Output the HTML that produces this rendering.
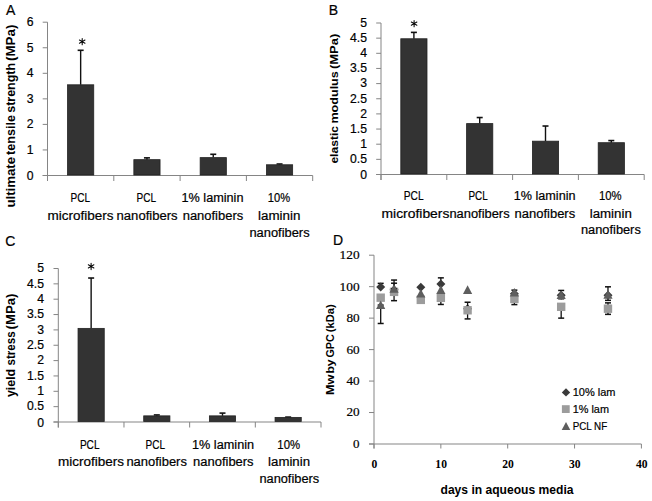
<!DOCTYPE html>
<html><head><meta charset="utf-8"><style>
html,body{margin:0;padding:0;background:#fff;}
svg{display:block;}

</style></head><body>
<svg width="652" height="501" viewBox="0 0 652 501" font-family='"Liberation Sans", sans-serif'>
<rect width="652" height="501" fill="#fff"/>
<text x="6.00" y="15.00" font-size="14" stroke="#000" stroke-width="0.2">A</text>
<line x1="47.50" y1="22.20" x2="47.50" y2="181.00" stroke="#858585" stroke-width="1"/>
<line x1="42.70" y1="175.50" x2="47.50" y2="175.50" stroke="#858585" stroke-width="1"/>
<text x="33.60" y="180.10" font-size="12.2" text-anchor="end" stroke="#000" stroke-width="0.2">0</text>
<line x1="42.70" y1="149.95" x2="47.50" y2="149.95" stroke="#858585" stroke-width="1"/>
<text x="33.60" y="153.75" font-size="12.2" text-anchor="end" stroke="#000" stroke-width="0.2">1</text>
<line x1="42.70" y1="124.40" x2="47.50" y2="124.40" stroke="#858585" stroke-width="1"/>
<text x="33.60" y="128.20" font-size="12.2" text-anchor="end" stroke="#000" stroke-width="0.2">2</text>
<line x1="42.70" y1="98.85" x2="47.50" y2="98.85" stroke="#858585" stroke-width="1"/>
<text x="33.60" y="102.65" font-size="12.2" text-anchor="end" stroke="#000" stroke-width="0.2">3</text>
<line x1="42.70" y1="73.30" x2="47.50" y2="73.30" stroke="#858585" stroke-width="1"/>
<text x="33.60" y="77.10" font-size="12.2" text-anchor="end" stroke="#000" stroke-width="0.2">4</text>
<line x1="42.70" y1="47.75" x2="47.50" y2="47.75" stroke="#858585" stroke-width="1"/>
<text x="33.60" y="51.55" font-size="12.2" text-anchor="end" stroke="#000" stroke-width="0.2">5</text>
<line x1="42.70" y1="22.20" x2="47.50" y2="22.20" stroke="#858585" stroke-width="1"/>
<text x="33.60" y="26.00" font-size="12.2" text-anchor="end" stroke="#000" stroke-width="0.2">6</text>
<line x1="42.70" y1="175.50" x2="312.70" y2="175.50" stroke="#858585" stroke-width="1"/>
<line x1="47.50" y1="175.50" x2="47.50" y2="181.00" stroke="#858585" stroke-width="1"/>
<line x1="113.80" y1="175.50" x2="113.80" y2="181.00" stroke="#858585" stroke-width="1"/>
<line x1="180.10" y1="175.50" x2="180.10" y2="181.00" stroke="#858585" stroke-width="1"/>
<line x1="246.40" y1="175.50" x2="246.40" y2="181.00" stroke="#858585" stroke-width="1"/>
<line x1="312.70" y1="175.50" x2="312.70" y2="181.00" stroke="#858585" stroke-width="1"/>
<line x1="80.65" y1="50.30" x2="80.65" y2="84.80" stroke="#111" stroke-width="1.4"/>
<line x1="77.65" y1="50.30" x2="83.65" y2="50.30" stroke="#111" stroke-width="1.6"/>
<rect x="67.55" y="84.80" width="26.20" height="90.20" fill="#333333" stroke="#222" stroke-width="0.8"/>
<line x1="146.95" y1="157.87" x2="146.95" y2="159.66" stroke="#111" stroke-width="1.4"/>
<line x1="143.95" y1="157.87" x2="149.95" y2="157.87" stroke="#111" stroke-width="1.6"/>
<rect x="133.85" y="159.66" width="26.20" height="15.34" fill="#333333" stroke="#222" stroke-width="0.8"/>
<line x1="213.25" y1="154.29" x2="213.25" y2="157.62" stroke="#111" stroke-width="1.4"/>
<line x1="210.25" y1="154.29" x2="216.25" y2="154.29" stroke="#111" stroke-width="1.6"/>
<rect x="200.15" y="157.62" width="26.20" height="17.38" fill="#333333" stroke="#222" stroke-width="0.8"/>
<line x1="279.55" y1="164.00" x2="279.55" y2="164.77" stroke="#111" stroke-width="1.4"/>
<line x1="276.55" y1="164.00" x2="282.55" y2="164.00" stroke="#111" stroke-width="1.6"/>
<rect x="266.45" y="164.77" width="26.20" height="10.23" fill="#333333" stroke="#222" stroke-width="0.8"/>
<path d="M82.20,41.60L82.20,38.40M82.20,41.60L79.43,40.00M82.20,41.60L79.43,43.20M82.20,41.60L82.20,44.80M82.20,41.60L84.97,43.20M82.20,41.60L84.97,40.00" stroke="#000" stroke-width="1.05" stroke-linecap="round" fill="none"/>
<text x="70.60" y="202.30" font-size="12.3" textLength="19.50" lengthAdjust="spacingAndGlyphs" stroke="#000" stroke-width="0.2">PCL</text>
<text x="47.60" y="219.60" font-size="12.3" textLength="66.00" lengthAdjust="spacingAndGlyphs" stroke="#000" stroke-width="0.2">microfibers</text>
<text x="136.60" y="202.30" font-size="12.3" textLength="19.50" lengthAdjust="spacingAndGlyphs" stroke="#000" stroke-width="0.2">PCL</text>
<text x="116.60" y="219.60" font-size="12.3" textLength="61.00" lengthAdjust="spacingAndGlyphs" stroke="#000" stroke-width="0.2">nanofibers</text>
<text x="181.50" y="202.30" font-size="12.3" textLength="62.00" lengthAdjust="spacingAndGlyphs" stroke="#000" stroke-width="0.2">1% laminin</text>
<text x="182.70" y="219.60" font-size="12.3" textLength="60.50" lengthAdjust="spacingAndGlyphs" stroke="#000" stroke-width="0.2">nanofibers</text>
<text x="267.80" y="202.30" font-size="12.3" textLength="22.30" lengthAdjust="spacingAndGlyphs" stroke="#000" stroke-width="0.2">10%</text>
<text x="258.10" y="219.60" font-size="12.3" textLength="42.30" lengthAdjust="spacingAndGlyphs" stroke="#000" stroke-width="0.2">laminin</text>
<text x="249.40" y="236.60" font-size="12.3" textLength="60.20" lengthAdjust="spacingAndGlyphs" stroke="#000" stroke-width="0.2">nanofibers</text>
<text transform="translate(14.70 207.60) rotate(-90)" font-size="12.5" font-weight="bold" textLength="50.70" lengthAdjust="spacingAndGlyphs">ultimate</text>
<text transform="translate(14.70 154.90) rotate(-90)" font-size="12.5" font-weight="bold" textLength="39.80" lengthAdjust="spacingAndGlyphs">tensile</text>
<text transform="translate(14.70 112.80) rotate(-90)" font-size="12.5" font-weight="bold" textLength="49.90" lengthAdjust="spacingAndGlyphs">strength</text>
<text transform="translate(14.70 61.00) rotate(-90)" font-size="12.5" font-weight="bold" textLength="36.40" lengthAdjust="spacingAndGlyphs">(MPa)</text>
<text x="328.70" y="14.60" font-size="14" stroke="#000" stroke-width="0.2">B</text>
<line x1="381.00" y1="23.00" x2="381.00" y2="180.00" stroke="#858585" stroke-width="1"/>
<line x1="376.20" y1="174.50" x2="381.00" y2="174.50" stroke="#858585" stroke-width="1"/>
<text x="367.00" y="179.10" font-size="12.2" text-anchor="end" stroke="#000" stroke-width="0.2">0</text>
<line x1="376.20" y1="159.35" x2="381.00" y2="159.35" stroke="#858585" stroke-width="1"/>
<text x="367.00" y="163.15" font-size="12.2" text-anchor="end" stroke="#000" stroke-width="0.2">0.5</text>
<line x1="376.20" y1="144.20" x2="381.00" y2="144.20" stroke="#858585" stroke-width="1"/>
<text x="367.00" y="148.00" font-size="12.2" text-anchor="end" stroke="#000" stroke-width="0.2">1</text>
<line x1="376.20" y1="129.05" x2="381.00" y2="129.05" stroke="#858585" stroke-width="1"/>
<text x="367.00" y="132.85" font-size="12.2" text-anchor="end" stroke="#000" stroke-width="0.2">1.5</text>
<line x1="376.20" y1="113.90" x2="381.00" y2="113.90" stroke="#858585" stroke-width="1"/>
<text x="367.00" y="117.70" font-size="12.2" text-anchor="end" stroke="#000" stroke-width="0.2">2</text>
<line x1="376.20" y1="98.75" x2="381.00" y2="98.75" stroke="#858585" stroke-width="1"/>
<text x="367.00" y="102.55" font-size="12.2" text-anchor="end" stroke="#000" stroke-width="0.2">2.5</text>
<line x1="376.20" y1="83.60" x2="381.00" y2="83.60" stroke="#858585" stroke-width="1"/>
<text x="367.00" y="87.40" font-size="12.2" text-anchor="end" stroke="#000" stroke-width="0.2">3</text>
<line x1="376.20" y1="68.45" x2="381.00" y2="68.45" stroke="#858585" stroke-width="1"/>
<text x="367.00" y="72.25" font-size="12.2" text-anchor="end" stroke="#000" stroke-width="0.2">3.5</text>
<line x1="376.20" y1="53.30" x2="381.00" y2="53.30" stroke="#858585" stroke-width="1"/>
<text x="367.00" y="57.10" font-size="12.2" text-anchor="end" stroke="#000" stroke-width="0.2">4</text>
<line x1="376.20" y1="38.15" x2="381.00" y2="38.15" stroke="#858585" stroke-width="1"/>
<text x="367.00" y="41.95" font-size="12.2" text-anchor="end" stroke="#000" stroke-width="0.2">4.5</text>
<line x1="376.20" y1="23.00" x2="381.00" y2="23.00" stroke="#858585" stroke-width="1"/>
<text x="367.00" y="26.80" font-size="12.2" text-anchor="end" stroke="#000" stroke-width="0.2">5</text>
<line x1="376.20" y1="174.50" x2="644.20" y2="174.50" stroke="#858585" stroke-width="1"/>
<line x1="381.00" y1="174.50" x2="381.00" y2="180.00" stroke="#858585" stroke-width="1"/>
<line x1="446.80" y1="174.50" x2="446.80" y2="180.00" stroke="#858585" stroke-width="1"/>
<line x1="512.60" y1="174.50" x2="512.60" y2="180.00" stroke="#858585" stroke-width="1"/>
<line x1="578.40" y1="174.50" x2="578.40" y2="180.00" stroke="#858585" stroke-width="1"/>
<line x1="644.20" y1="174.50" x2="644.20" y2="180.00" stroke="#858585" stroke-width="1"/>
<line x1="413.90" y1="32.39" x2="413.90" y2="38.76" stroke="#111" stroke-width="1.4"/>
<line x1="410.90" y1="32.39" x2="416.90" y2="32.39" stroke="#111" stroke-width="1.6"/>
<rect x="400.80" y="38.76" width="26.20" height="135.24" fill="#333333" stroke="#222" stroke-width="0.8"/>
<line x1="479.70" y1="117.54" x2="479.70" y2="123.60" stroke="#111" stroke-width="1.4"/>
<line x1="476.70" y1="117.54" x2="482.70" y2="117.54" stroke="#111" stroke-width="1.6"/>
<rect x="466.60" y="123.60" width="26.20" height="50.40" fill="#333333" stroke="#222" stroke-width="0.8"/>
<line x1="545.50" y1="126.02" x2="545.50" y2="141.17" stroke="#111" stroke-width="1.4"/>
<line x1="542.50" y1="126.02" x2="548.50" y2="126.02" stroke="#111" stroke-width="1.6"/>
<rect x="532.40" y="141.17" width="26.20" height="32.83" fill="#333333" stroke="#222" stroke-width="0.8"/>
<line x1="611.30" y1="140.56" x2="611.30" y2="142.69" stroke="#111" stroke-width="1.4"/>
<line x1="608.30" y1="140.56" x2="614.30" y2="140.56" stroke="#111" stroke-width="1.6"/>
<rect x="598.20" y="142.69" width="26.20" height="31.31" fill="#333333" stroke="#222" stroke-width="0.8"/>
<path d="M414.10,23.60L414.10,20.40M414.10,23.60L411.33,22.00M414.10,23.60L411.33,25.20M414.10,23.60L414.10,26.80M414.10,23.60L416.87,25.20M414.10,23.60L416.87,22.00" stroke="#000" stroke-width="1.05" stroke-linecap="round" fill="none"/>
<text x="403.80" y="200.20" font-size="12.3" textLength="19.80" lengthAdjust="spacingAndGlyphs" stroke="#000" stroke-width="0.2">PCL</text>
<text x="381.50" y="217.50" font-size="12.3" textLength="67.90" lengthAdjust="spacingAndGlyphs" stroke="#000" stroke-width="0.2">microfibers</text>
<text x="468.50" y="200.20" font-size="12.3" textLength="19.30" lengthAdjust="spacingAndGlyphs" stroke="#000" stroke-width="0.2">PCL</text>
<text x="449.40" y="217.50" font-size="12.3" textLength="60.20" lengthAdjust="spacingAndGlyphs" stroke="#000" stroke-width="0.2">nanofibers</text>
<text x="513.80" y="200.20" font-size="12.3" textLength="61.70" lengthAdjust="spacingAndGlyphs" stroke="#000" stroke-width="0.2">1% laminin</text>
<text x="514.50" y="217.50" font-size="12.3" textLength="60.70" lengthAdjust="spacingAndGlyphs" stroke="#000" stroke-width="0.2">nanofibers</text>
<text x="598.90" y="200.20" font-size="12.3" textLength="22.60" lengthAdjust="spacingAndGlyphs" stroke="#000" stroke-width="0.2">10%</text>
<text x="589.70" y="217.50" font-size="12.3" textLength="42.10" lengthAdjust="spacingAndGlyphs" stroke="#000" stroke-width="0.2">laminin</text>
<text x="581.00" y="234.30" font-size="12.3" textLength="59.80" lengthAdjust="spacingAndGlyphs" stroke="#000" stroke-width="0.2">nanofibers</text>
<text transform="translate(337.50 163.60) rotate(-90)" font-size="11.8" font-weight="bold" textLength="37.60" lengthAdjust="spacingAndGlyphs">elastic</text>
<text transform="translate(337.50 123.60) rotate(-90)" font-size="11.8" font-weight="bold" textLength="52.40" lengthAdjust="spacingAndGlyphs">modulus</text>
<text transform="translate(337.50 69.10) rotate(-90)" font-size="11.8" font-weight="bold" textLength="35.50" lengthAdjust="spacingAndGlyphs">(MPa)</text>
<text x="5.30" y="246.30" font-size="14" stroke="#000" stroke-width="0.2">C</text>
<line x1="58.30" y1="268.50" x2="58.30" y2="427.50" stroke="#858585" stroke-width="1"/>
<line x1="53.50" y1="422.00" x2="58.30" y2="422.00" stroke="#858585" stroke-width="1"/>
<text x="44.00" y="426.60" font-size="12.2" text-anchor="end" stroke="#000" stroke-width="0.2">0</text>
<line x1="53.50" y1="406.65" x2="58.30" y2="406.65" stroke="#858585" stroke-width="1"/>
<text x="44.00" y="410.45" font-size="12.2" text-anchor="end" stroke="#000" stroke-width="0.2">0.5</text>
<line x1="53.50" y1="391.30" x2="58.30" y2="391.30" stroke="#858585" stroke-width="1"/>
<text x="44.00" y="395.10" font-size="12.2" text-anchor="end" stroke="#000" stroke-width="0.2">1</text>
<line x1="53.50" y1="375.95" x2="58.30" y2="375.95" stroke="#858585" stroke-width="1"/>
<text x="44.00" y="379.75" font-size="12.2" text-anchor="end" stroke="#000" stroke-width="0.2">1.5</text>
<line x1="53.50" y1="360.60" x2="58.30" y2="360.60" stroke="#858585" stroke-width="1"/>
<text x="44.00" y="364.40" font-size="12.2" text-anchor="end" stroke="#000" stroke-width="0.2">2</text>
<line x1="53.50" y1="345.25" x2="58.30" y2="345.25" stroke="#858585" stroke-width="1"/>
<text x="44.00" y="349.05" font-size="12.2" text-anchor="end" stroke="#000" stroke-width="0.2">2.5</text>
<line x1="53.50" y1="329.90" x2="58.30" y2="329.90" stroke="#858585" stroke-width="1"/>
<text x="44.00" y="333.70" font-size="12.2" text-anchor="end" stroke="#000" stroke-width="0.2">3</text>
<line x1="53.50" y1="314.55" x2="58.30" y2="314.55" stroke="#858585" stroke-width="1"/>
<text x="44.00" y="318.35" font-size="12.2" text-anchor="end" stroke="#000" stroke-width="0.2">3.5</text>
<line x1="53.50" y1="299.20" x2="58.30" y2="299.20" stroke="#858585" stroke-width="1"/>
<text x="44.00" y="303.00" font-size="12.2" text-anchor="end" stroke="#000" stroke-width="0.2">4</text>
<line x1="53.50" y1="283.85" x2="58.30" y2="283.85" stroke="#858585" stroke-width="1"/>
<text x="44.00" y="287.65" font-size="12.2" text-anchor="end" stroke="#000" stroke-width="0.2">4.5</text>
<line x1="53.50" y1="268.50" x2="58.30" y2="268.50" stroke="#858585" stroke-width="1"/>
<text x="44.00" y="272.30" font-size="12.2" text-anchor="end" stroke="#000" stroke-width="0.2">5</text>
<line x1="53.50" y1="422.00" x2="321.00" y2="422.00" stroke="#858585" stroke-width="1"/>
<line x1="58.30" y1="422.00" x2="58.30" y2="427.50" stroke="#858585" stroke-width="1"/>
<line x1="123.97" y1="422.00" x2="123.97" y2="427.50" stroke="#858585" stroke-width="1"/>
<line x1="189.65" y1="422.00" x2="189.65" y2="427.50" stroke="#858585" stroke-width="1"/>
<line x1="255.32" y1="422.00" x2="255.32" y2="427.50" stroke="#858585" stroke-width="1"/>
<line x1="321.00" y1="422.00" x2="321.00" y2="427.50" stroke="#858585" stroke-width="1"/>
<line x1="91.14" y1="278.02" x2="91.14" y2="328.37" stroke="#111" stroke-width="1.4"/>
<line x1="88.14" y1="278.02" x2="94.14" y2="278.02" stroke="#111" stroke-width="1.6"/>
<rect x="78.04" y="328.37" width="26.20" height="93.13" fill="#333333" stroke="#222" stroke-width="0.8"/>
<line x1="156.81" y1="414.94" x2="156.81" y2="415.86" stroke="#111" stroke-width="1.4"/>
<line x1="153.81" y1="414.94" x2="159.81" y2="414.94" stroke="#111" stroke-width="1.6"/>
<rect x="143.71" y="415.86" width="26.20" height="5.64" fill="#333333" stroke="#222" stroke-width="0.8"/>
<line x1="222.49" y1="413.10" x2="222.49" y2="415.86" stroke="#111" stroke-width="1.4"/>
<line x1="219.49" y1="413.10" x2="225.49" y2="413.10" stroke="#111" stroke-width="1.6"/>
<rect x="209.39" y="415.86" width="26.20" height="5.64" fill="#333333" stroke="#222" stroke-width="0.8"/>
<line x1="288.16" y1="417.09" x2="288.16" y2="417.39" stroke="#111" stroke-width="1.4"/>
<line x1="285.16" y1="417.09" x2="291.16" y2="417.09" stroke="#111" stroke-width="1.6"/>
<rect x="275.06" y="417.39" width="26.20" height="4.11" fill="#333333" stroke="#222" stroke-width="0.8"/>
<path d="M91.10,266.40L91.10,263.20M91.10,266.40L88.33,264.80M91.10,266.40L88.33,268.00M91.10,266.40L91.10,269.60M91.10,266.40L93.87,268.00M91.10,266.40L93.87,264.80" stroke="#000" stroke-width="1.05" stroke-linecap="round" fill="none"/>
<text x="79.90" y="448.90" font-size="12.3" textLength="19.60" lengthAdjust="spacingAndGlyphs" stroke="#000" stroke-width="0.2">PCL</text>
<text x="58.00" y="466.30" font-size="12.3" textLength="66.10" lengthAdjust="spacingAndGlyphs" stroke="#000" stroke-width="0.2">microfibers</text>
<text x="145.50" y="448.90" font-size="12.3" textLength="19.50" lengthAdjust="spacingAndGlyphs" stroke="#000" stroke-width="0.2">PCL</text>
<text x="126.40" y="466.30" font-size="12.3" textLength="60.50" lengthAdjust="spacingAndGlyphs" stroke="#000" stroke-width="0.2">nanofibers</text>
<text x="192.00" y="448.90" font-size="12.3" textLength="62.10" lengthAdjust="spacingAndGlyphs" stroke="#000" stroke-width="0.2">1% laminin</text>
<text x="193.10" y="466.30" font-size="12.3" textLength="60.50" lengthAdjust="spacingAndGlyphs" stroke="#000" stroke-width="0.2">nanofibers</text>
<text x="277.30" y="448.90" font-size="12.3" textLength="22.80" lengthAdjust="spacingAndGlyphs" stroke="#000" stroke-width="0.2">10%</text>
<text x="268.10" y="466.30" font-size="12.3" textLength="41.90" lengthAdjust="spacingAndGlyphs" stroke="#000" stroke-width="0.2">laminin</text>
<text x="259.40" y="483.00" font-size="12.3" textLength="59.80" lengthAdjust="spacingAndGlyphs" stroke="#000" stroke-width="0.2">nanofibers</text>
<text transform="translate(15.30 397.10) rotate(-90)" font-size="12.5" font-weight="bold" textLength="28.30" lengthAdjust="spacingAndGlyphs">yield</text>
<text transform="translate(15.30 365.50) rotate(-90)" font-size="12.5" font-weight="bold" textLength="34.10" lengthAdjust="spacingAndGlyphs">stress</text>
<text transform="translate(15.30 329.40) rotate(-90)" font-size="12.5" font-weight="bold" textLength="35.70" lengthAdjust="spacingAndGlyphs">(MPa)</text>
<text x="332.90" y="244.70" font-size="14" stroke="#000" stroke-width="0.2">D</text>
<line x1="374.00" y1="255.20" x2="374.00" y2="448.50" stroke="#858585" stroke-width="1"/>
<line x1="369.00" y1="444.00" x2="374.00" y2="444.00" stroke="#858585" stroke-width="1"/>
<text x="359.60" y="447.90" font-size="13.2" text-anchor="end" font-family='"Liberation Serif", serif' textLength="6.50" lengthAdjust="spacingAndGlyphs" stroke="#000" stroke-width="0.2">0</text>
<line x1="369.00" y1="412.53" x2="374.00" y2="412.53" stroke="#858585" stroke-width="1"/>
<text x="359.60" y="416.43" font-size="13.2" text-anchor="end" font-family='"Liberation Serif", serif' textLength="13.20" lengthAdjust="spacingAndGlyphs" stroke="#000" stroke-width="0.2">20</text>
<line x1="369.00" y1="381.07" x2="374.00" y2="381.07" stroke="#858585" stroke-width="1"/>
<text x="359.60" y="384.97" font-size="13.2" text-anchor="end" font-family='"Liberation Serif", serif' textLength="13.20" lengthAdjust="spacingAndGlyphs" stroke="#000" stroke-width="0.2">40</text>
<line x1="369.00" y1="349.60" x2="374.00" y2="349.60" stroke="#858585" stroke-width="1"/>
<text x="359.60" y="353.50" font-size="13.2" text-anchor="end" font-family='"Liberation Serif", serif' textLength="13.20" lengthAdjust="spacingAndGlyphs" stroke="#000" stroke-width="0.2">60</text>
<line x1="369.00" y1="318.13" x2="374.00" y2="318.13" stroke="#858585" stroke-width="1"/>
<text x="359.60" y="322.03" font-size="13.2" text-anchor="end" font-family='"Liberation Serif", serif' textLength="13.20" lengthAdjust="spacingAndGlyphs" stroke="#000" stroke-width="0.2">80</text>
<line x1="369.00" y1="286.67" x2="374.00" y2="286.67" stroke="#858585" stroke-width="1"/>
<text x="359.60" y="290.57" font-size="13.2" text-anchor="end" font-family='"Liberation Serif", serif' textLength="20.00" lengthAdjust="spacingAndGlyphs" stroke="#000" stroke-width="0.2">100</text>
<line x1="369.00" y1="255.20" x2="374.00" y2="255.20" stroke="#858585" stroke-width="1"/>
<text x="359.60" y="259.10" font-size="13.2" text-anchor="end" font-family='"Liberation Serif", serif' textLength="20.00" lengthAdjust="spacingAndGlyphs" stroke="#000" stroke-width="0.2">120</text>
<line x1="369.00" y1="444.00" x2="641.40" y2="444.00" stroke="#858585" stroke-width="1"/>
<line x1="374.00" y1="444.00" x2="374.00" y2="448.50" stroke="#858585" stroke-width="1"/>
<text x="374.30" y="467.90" font-size="11.6" font-weight="bold" text-anchor="middle" font-family='"Liberation Serif", serif'>0</text>
<line x1="440.85" y1="444.00" x2="440.85" y2="448.50" stroke="#858585" stroke-width="1"/>
<text x="441.15" y="467.90" font-size="11.6" font-weight="bold" text-anchor="middle" font-family='"Liberation Serif", serif'>10</text>
<line x1="507.70" y1="444.00" x2="507.70" y2="448.50" stroke="#858585" stroke-width="1"/>
<text x="508.00" y="467.90" font-size="11.6" font-weight="bold" text-anchor="middle" font-family='"Liberation Serif", serif'>20</text>
<line x1="574.55" y1="444.00" x2="574.55" y2="448.50" stroke="#858585" stroke-width="1"/>
<text x="574.85" y="467.90" font-size="11.6" font-weight="bold" text-anchor="middle" font-family='"Liberation Serif", serif'>30</text>
<line x1="641.40" y1="444.00" x2="641.40" y2="448.50" stroke="#858585" stroke-width="1"/>
<text x="641.70" y="467.90" font-size="11.6" font-weight="bold" text-anchor="middle" font-family='"Liberation Serif", serif'>40</text>
<text x="507.00" y="494.00" font-size="12.5" font-weight="bold" text-anchor="middle" textLength="133.00" lengthAdjust="spacingAndGlyphs">days in aqueous media</text>
<text transform="translate(333.80 395.00) rotate(-90)" font-size="11.3" font-weight="bold" textLength="20.40" lengthAdjust="spacingAndGlyphs">Mw</text>
<text transform="translate(333.80 373.60) rotate(-90)" font-size="11.3" font-weight="bold" textLength="14.20" lengthAdjust="spacingAndGlyphs">by</text>
<text transform="translate(333.80 357.60) rotate(-90)" font-size="11.3" font-weight="bold" textLength="23.40" lengthAdjust="spacingAndGlyphs">GPC</text>
<text transform="translate(333.80 332.20) rotate(-90)" font-size="11.3" font-weight="bold" textLength="27.80" lengthAdjust="spacingAndGlyphs">(kDa)</text>
<line x1="380.69" y1="283.36" x2="380.69" y2="286.98" stroke="#111" stroke-width="1.3"/>
<line x1="377.69" y1="283.36" x2="383.69" y2="283.36" stroke="#111" stroke-width="1.5"/>
<line x1="377.69" y1="286.98" x2="383.69" y2="286.98" stroke="#111" stroke-width="1.5"/>
<polygon points="380.69,282.48 385.19,286.98 380.69,291.48 376.19,286.98" fill="#3a3a3a"/>
<rect x="376.49" y="293.48" width="8.40" height="8.40" fill="#9c9c9c"/>
<line x1="380.69" y1="305.07" x2="380.69" y2="323.48" stroke="#111" stroke-width="1.3"/>
<line x1="377.69" y1="305.07" x2="383.69" y2="305.07" stroke="#111" stroke-width="1.5"/>
<line x1="377.69" y1="323.48" x2="383.69" y2="323.48" stroke="#111" stroke-width="1.5"/>
<polygon points="380.69,300.47 385.29,309.08 376.08,309.08" fill="#5e5e5e"/>
<line x1="394.06" y1="280.06" x2="394.06" y2="289.81" stroke="#111" stroke-width="1.3"/>
<line x1="391.06" y1="280.06" x2="397.06" y2="280.06" stroke="#111" stroke-width="1.5"/>
<line x1="391.06" y1="289.81" x2="397.06" y2="289.81" stroke="#111" stroke-width="1.5"/>
<polygon points="394.06,285.31 398.56,289.81 394.06,294.31 389.56,289.81" fill="#3a3a3a"/>
<line x1="394.06" y1="291.86" x2="394.06" y2="300.67" stroke="#111" stroke-width="1.3"/>
<line x1="391.06" y1="291.86" x2="397.06" y2="291.86" stroke="#111" stroke-width="1.5"/>
<line x1="391.06" y1="300.67" x2="397.06" y2="300.67" stroke="#111" stroke-width="1.5"/>
<rect x="389.86" y="287.66" width="8.40" height="8.40" fill="#9c9c9c"/>
<line x1="394.06" y1="283.21" x2="394.06" y2="288.87" stroke="#111" stroke-width="1.3"/>
<line x1="391.06" y1="283.21" x2="397.06" y2="283.21" stroke="#111" stroke-width="1.5"/>
<line x1="391.06" y1="288.87" x2="397.06" y2="288.87" stroke="#111" stroke-width="1.5"/>
<polygon points="394.06,284.27 398.66,292.87 389.45,292.87" fill="#5e5e5e"/>
<polygon points="420.80,282.80 425.30,287.30 420.80,291.80 416.30,287.30" fill="#3a3a3a"/>
<rect x="416.60" y="295.68" width="8.40" height="8.40" fill="#9c9c9c"/>
<polygon points="420.80,288.99 425.40,297.59 416.19,297.59" fill="#5e5e5e"/>
<line x1="440.85" y1="277.86" x2="440.85" y2="283.99" stroke="#111" stroke-width="1.3"/>
<line x1="437.85" y1="277.86" x2="443.85" y2="277.86" stroke="#111" stroke-width="1.5"/>
<line x1="437.85" y1="283.99" x2="443.85" y2="283.99" stroke="#111" stroke-width="1.5"/>
<polygon points="440.85,279.49 445.35,283.99 440.85,288.49 436.35,283.99" fill="#3a3a3a"/>
<line x1="440.85" y1="297.84" x2="440.85" y2="304.45" stroke="#111" stroke-width="1.3"/>
<line x1="437.85" y1="297.84" x2="443.85" y2="297.84" stroke="#111" stroke-width="1.5"/>
<line x1="437.85" y1="304.45" x2="443.85" y2="304.45" stroke="#111" stroke-width="1.5"/>
<rect x="436.65" y="293.64" width="8.40" height="8.40" fill="#9c9c9c"/>
<polygon points="440.85,285.37 445.45,293.97 436.25,293.97" fill="#5e5e5e"/>
<polygon points="467.59,304.19 472.09,308.69 467.59,313.19 463.09,308.69" fill="#3a3a3a"/>
<line x1="467.59" y1="302.24" x2="467.59" y2="318.92" stroke="#111" stroke-width="1.3"/>
<line x1="464.59" y1="302.24" x2="470.59" y2="302.24" stroke="#111" stroke-width="1.5"/>
<line x1="464.59" y1="318.92" x2="470.59" y2="318.92" stroke="#111" stroke-width="1.5"/>
<rect x="463.39" y="306.07" width="8.40" height="8.40" fill="#9c9c9c"/>
<polygon points="467.59,285.37 472.19,293.97 462.99,293.97" fill="#5e5e5e"/>
<line x1="514.38" y1="290.13" x2="514.38" y2="293.75" stroke="#111" stroke-width="1.3"/>
<line x1="511.38" y1="290.13" x2="517.38" y2="290.13" stroke="#111" stroke-width="1.5"/>
<line x1="511.38" y1="293.75" x2="517.38" y2="293.75" stroke="#111" stroke-width="1.5"/>
<polygon points="514.38,289.25 518.88,293.75 514.38,298.25 509.88,293.75" fill="#3a3a3a"/>
<line x1="514.38" y1="298.94" x2="514.38" y2="304.60" stroke="#111" stroke-width="1.3"/>
<line x1="511.38" y1="298.94" x2="517.38" y2="298.94" stroke="#111" stroke-width="1.5"/>
<line x1="511.38" y1="304.60" x2="517.38" y2="304.60" stroke="#111" stroke-width="1.5"/>
<rect x="510.19" y="294.74" width="8.40" height="8.40" fill="#9c9c9c"/>
<polygon points="514.38,287.89 518.99,296.49 509.78,296.49" fill="#5e5e5e"/>
<line x1="561.18" y1="290.44" x2="561.18" y2="298.78" stroke="#111" stroke-width="1.3"/>
<line x1="558.18" y1="290.44" x2="564.18" y2="290.44" stroke="#111" stroke-width="1.5"/>
<line x1="558.18" y1="298.78" x2="564.18" y2="298.78" stroke="#111" stroke-width="1.5"/>
<polygon points="561.18,290.82 565.68,295.32 561.18,299.82 556.68,295.32" fill="#3a3a3a"/>
<line x1="561.18" y1="306.81" x2="561.18" y2="318.13" stroke="#111" stroke-width="1.3"/>
<line x1="558.18" y1="306.81" x2="564.18" y2="306.81" stroke="#111" stroke-width="1.5"/>
<line x1="558.18" y1="318.13" x2="564.18" y2="318.13" stroke="#111" stroke-width="1.5"/>
<rect x="556.98" y="302.61" width="8.40" height="8.40" fill="#9c9c9c"/>
<polygon points="561.18,290.41 565.78,299.01 556.58,299.01" fill="#5e5e5e"/>
<line x1="607.98" y1="286.82" x2="607.98" y2="300.35" stroke="#111" stroke-width="1.3"/>
<line x1="604.98" y1="286.82" x2="610.98" y2="286.82" stroke="#111" stroke-width="1.5"/>
<line x1="604.98" y1="300.35" x2="610.98" y2="300.35" stroke="#111" stroke-width="1.5"/>
<polygon points="607.98,290.82 612.48,295.32 607.98,299.82 603.48,295.32" fill="#3a3a3a"/>
<line x1="607.98" y1="302.87" x2="607.98" y2="314.36" stroke="#111" stroke-width="1.3"/>
<line x1="604.98" y1="302.87" x2="610.98" y2="302.87" stroke="#111" stroke-width="1.5"/>
<line x1="604.98" y1="314.36" x2="610.98" y2="314.36" stroke="#111" stroke-width="1.5"/>
<rect x="603.77" y="304.49" width="8.40" height="8.40" fill="#9c9c9c"/>
<polygon points="607.98,290.25 612.58,298.85 603.38,298.85" fill="#5e5e5e"/>
<polygon points="566.00,388.20 570.20,392.40 566.00,396.60 561.80,392.40" fill="#3a3a3a"/>
<text x="572.70" y="396.20" font-size="11.2" textLength="42.80" lengthAdjust="spacingAndGlyphs" stroke="#000" stroke-width="0.2">10% lam</text>
<rect x="561.90" y="405.20" width="7.80" height="7.80" fill="#9c9c9c"/>
<text x="572.70" y="413.00" font-size="11.2" textLength="36.30" lengthAdjust="spacingAndGlyphs" stroke="#000" stroke-width="0.2">1% lam</text>
<polygon points="566.00,421.90 570.30,429.94 561.70,429.94" fill="#5e5e5e"/>
<text x="572.70" y="429.60" font-size="11.2" textLength="34.50" lengthAdjust="spacingAndGlyphs" stroke="#000" stroke-width="0.2">PCL NF</text>
</svg>
</body></html>
